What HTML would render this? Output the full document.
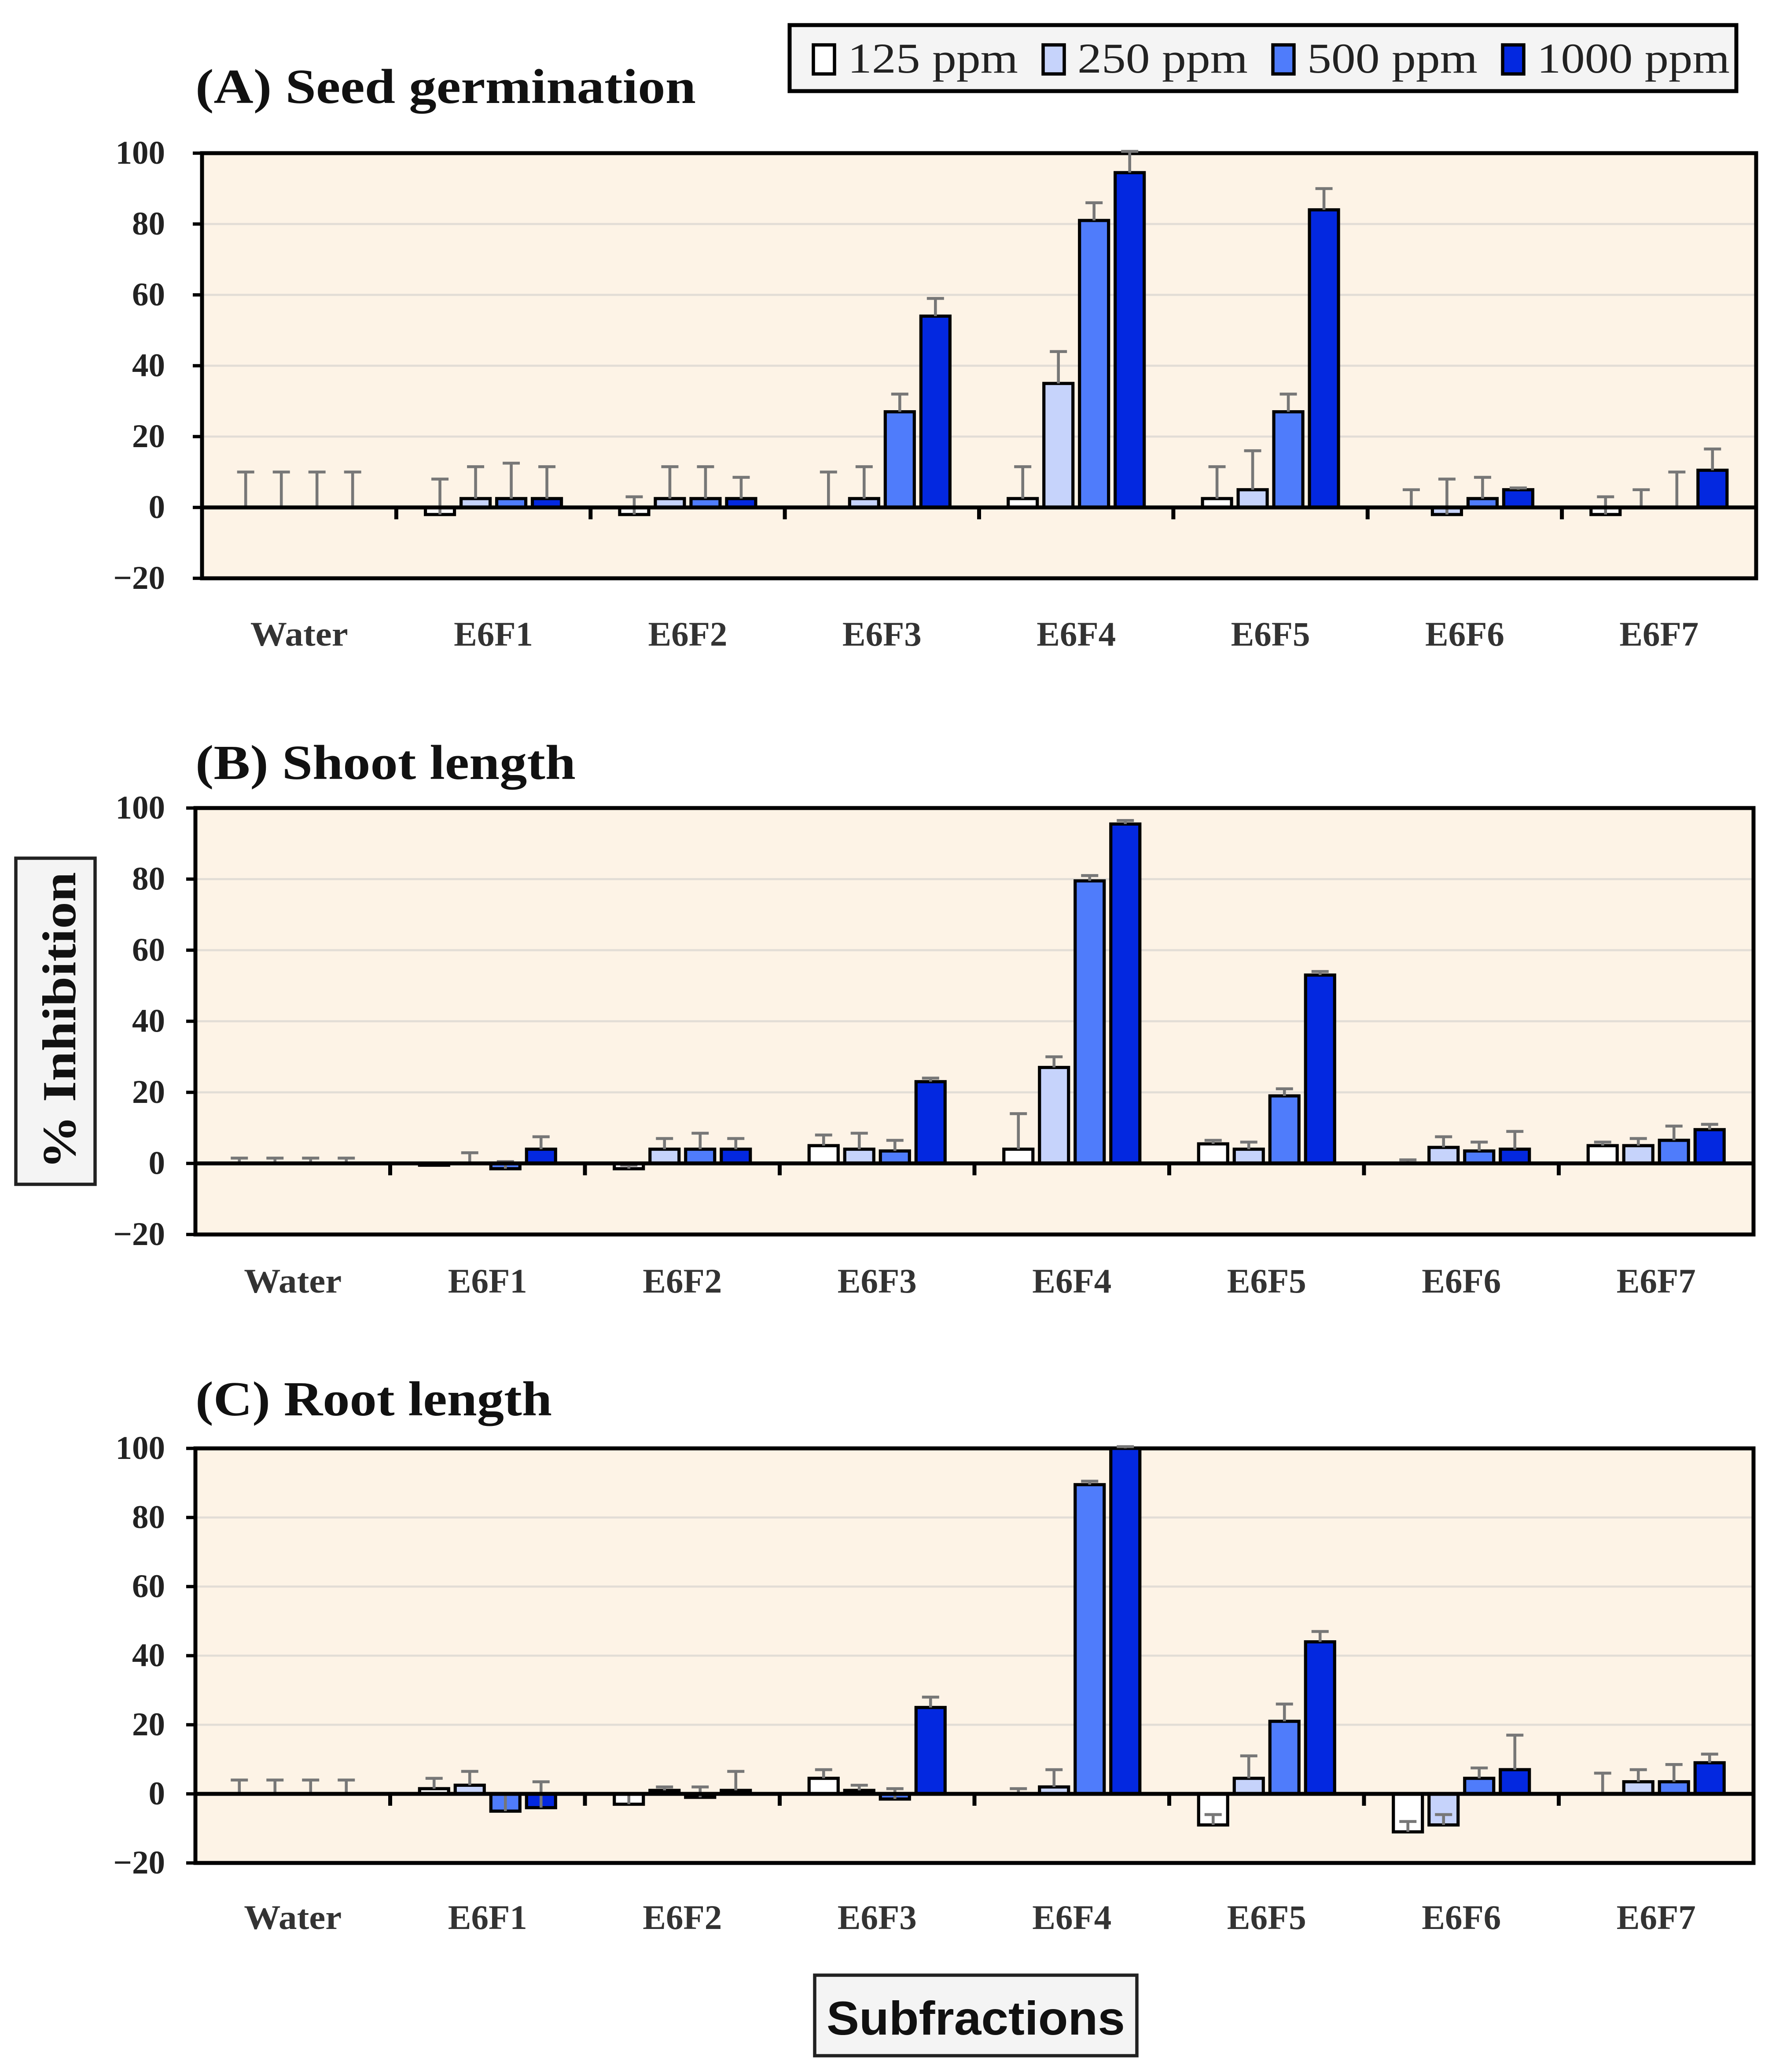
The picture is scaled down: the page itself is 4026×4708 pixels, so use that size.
<!DOCTYPE html>
<html><head><meta charset="utf-8"><style>
html,body{margin:0;padding:0;background:#fff;}
svg{display:block;}
</style></head><body>
<svg id="fig" xmlns="http://www.w3.org/2000/svg" width="4026" height="4708" viewBox="0 0 1342 1569.33">
<rect x="0" y="0" width="1342" height="1570" fill="#fff"/>
<g id="legend">
  <rect x="598" y="19" width="717" height="50" fill="#f4f4f4" stroke="#000" stroke-width="3"/>
  <rect x="616" y="34" width="16" height="22" fill="#fff" stroke="#000" stroke-width="2.5"/>
  <text x="642" y="55" textLength="129" lengthAdjust="spacingAndGlyphs" font-family="Liberation Serif, serif" font-size="32" fill="#222">125 ppm</text>
  <rect x="790" y="34" width="16" height="22" fill="#c6d3fb" stroke="#000" stroke-width="2.5"/>
  <text x="816" y="55" textLength="129" lengthAdjust="spacingAndGlyphs" font-family="Liberation Serif, serif" font-size="32" fill="#222">250 ppm</text>
  <rect x="964" y="34" width="16" height="22" fill="#4f7cfb" stroke="#000" stroke-width="2.5"/>
  <text x="990" y="55" textLength="129" lengthAdjust="spacingAndGlyphs" font-family="Liberation Serif, serif" font-size="32" fill="#222">500 ppm</text>
  <rect x="1138" y="34" width="16" height="22" fill="#0328e0" stroke="#000" stroke-width="2.5"/>
  <text x="1164" y="55" textLength="146" lengthAdjust="spacingAndGlyphs" font-family="Liberation Serif, serif" font-size="32" fill="#222">1000 ppm</text>
</g>
<g>
  <rect x="12" y="650" width="60" height="247" fill="#f4f4f4" stroke="#222" stroke-width="2.5"/>
  <text transform="translate(57,773) rotate(-90)" text-anchor="middle" textLength="225" lengthAdjust="spacingAndGlyphs" font-family="Liberation Serif, serif" font-weight="bold" font-size="36" fill="#111">% Inhibition</text>
</g>
<g>
  <rect x="617" y="1496" width="244" height="61" fill="#f4f4f4" stroke="#222" stroke-width="2.5"/>
  <text x="739" y="1541" text-anchor="middle" textLength="226" lengthAdjust="spacingAndGlyphs" font-family="Liberation Sans, sans-serif" font-weight="bold" font-size="36" fill="#111">Subfractions</text>
</g>
</svg>
<script>
const categories = ["Water","E6F1","E6F2","E6F3","E6F4","E6F5","E6F6","E6F7"];
const seriesNames = ["125 ppm","250 ppm","500 ppm","1000 ppm"];
const yTicks = [100,80,60,40,20,0,-20];
// Panel A: seed germination  [series][category]
const germ125  = [0,-2,-2,0,2.5,2.5,0,-2];
const germ250  = [0,2.5,2.5,2.5,35,5,-2,0];
const germ500  = [0,2.5,2.5,27,81,27,2.5,0];
const germ1000 = [0,2.5,2.5,54,94.5,84,5,10.5];
const germErr125  = [10,10,5,10,9,9,5,5];
const germErr250  = [10,9,9,9,9,11,10,5];
const germErr500  = [10,10,9,5,5,5,6,10];
const germErr1000 = [10,9,6,5,6,6,0.5,6];
// Panel B: shoot length
const shoot125  = [0,-0.5,-1.5,5,4,5.5,0,5];
const shoot250  = [0,0,4,4,27,4,4.5,5];
const shoot500  = [0,-1.5,4,3.5,79.5,19,3.5,6.5];
const shoot1000 = [0,4,4,23,95.5,53,4,9.5];
const shootErr125  = [1.5,0.5,1,3,10,1,1,1];
const shootErr250  = [1.5,3,3,4.5,3,2,3,2];
const shootErr500  = [1.5,2,4.5,3,1.5,2,2.5,4];
const shootErr1000 = [1.5,3.5,3,1,1,1,5,1.5];
// Panel C: root length
const root125  = [0,1.5,-3,4.5,0,-9,-11,0];
const root250  = [0,2.5,1,1,2,4.5,-9,3.5];
const root500  = [0,-5,-1,-1.5,89.5,21,4.5,3.5];
const root1000 = [0,-4,1,25,100,44,7,9];
const rootErr125  = [4,3,3,2.5,1.5,3,3,6];
const rootErr250  = [4,4,1,1.5,5,6.5,3,3.5];
const rootErr500  = [4,5,3,3,1,5,3,5];
const rootErr1000 = [4,7.5,5.5,3,0.5,3,10,2.5];

const colors = ["#ffffff","#c6d3fb","#4f7cfb","#0328e0"];
const NS = "http://www.w3.org/2000/svg";
const svg = document.getElementById("fig");
function mk(tag, attrs, parent){const e=document.createElementNS(NS,tag);for(const k in attrs)e.setAttribute(k,attrs[k]);(parent||svg).appendChild(e);return e;}

const panels = [
  {key:"germination", title:"(A) Seed germination", tlen:379, titleY:78, x0:153, x1:1330, yTop:116, yBot:438, labY:489,
   vals:[germ125,germ250,germ500,germ1000], errs:[germErr125,germErr250,germErr500,germErr1000]},
  {key:"shoot", title:"(B) Shoot length", tlen:288, titleY:590, x0:148, x1:1328, yTop:612, yBot:935, labY:979,
   vals:[shoot125,shoot250,shoot500,shoot1000], errs:[shootErr125,shootErr250,shootErr500,shootErr1000]},
  {key:"root", title:"(C) Root length", tlen:270, titleY:1072, x0:148, x1:1328, yTop:1097, yBot:1411, labY:1461,
   vals:[root125,root250,root500,root1000], errs:[rootErr125,rootErr250,rootErr500,rootErr1000]}
];

panels.forEach(p=>{
  const g = mk("g",{});
  
  
  const yMax=100,yMin=-20;
  const y = v => p.yTop + (yMax - v)/(yMax-yMin)*(p.yBot-p.yTop);
  const gw = (p.x1-p.x0)/categories.length;
  const xc = i => p.x0 + gw*(i+0.5);
  const bw = 22, step = 27;
  const t = mk("text",{x:148,y:p.titleY,textLength:p.tlen,lengthAdjust:"spacingAndGlyphs","font-family":"Liberation Serif, serif","font-weight":"bold","font-size":"37",fill:"#111"},g);
  t.textContent=p.title;
  
  
  const bg = mk("rect",{x:p.x0,y:p.yTop,width:p.x1-p.x0,height:p.yBot-p.yTop,fill:"#fdf3e6"},g);
  
  
  yTicks.forEach(v=>{
    if(v!==100 && v!==-20 && v!==0){
      const gl = mk("line",{x1:p.x0,x2:p.x1,y1:y(v),y2:y(v),stroke:"#e2ddd6","stroke-width":"1.6"},g);
      
      
    }
    const tl = mk("text",{x:125,y:y(v)+8,"text-anchor":"end","font-family":"Liberation Serif, serif","font-weight":"bold","font-size":"25",fill:"#222"},g);
    tl.textContent = v<0 ? "\u2212"+(-v) : String(v);
    
    
    const tk = mk("line",{x1:p.x0-7,x2:p.x0,y1:y(v),y2:y(v),stroke:"#000","stroke-width":"2.5"},g);
    
    
  });
  const border = mk("rect",{x:p.x0,y:p.yTop,width:p.x1-p.x0,height:p.yBot-p.yTop,fill:"none",stroke:"#000","stroke-width":"3"},g);
  
  
  categories.forEach((c,i)=>{
    const lab = mk("text",{x:xc(i),y:p.labY,"text-anchor":"middle",textLength:(i===0?74:60),lengthAdjust:"spacingAndGlyphs","font-family":"Liberation Serif, serif","font-weight":"bold","font-size":"26",fill:"#333"},g);
    lab.textContent=c;
    
    
    if(i>0){
      const ct = mk("line",{x1:p.x0+gw*i,x2:p.x0+gw*i,y1:y(0),y2:y(0)+9,stroke:"#000","stroke-width":"3"},g);
      
      
    }
    p.vals.forEach((arr,s)=>{
      const v = arr[i];
      const bx = xc(i) + (s-1.5)*step - bw/2;
      const top = Math.min(y(v),y(0)), h = Math.abs(y(v)-y(0));
      const r = mk("rect",{x:bx,y:top,width:bw,height:h,fill:colors[s],stroke:"#000","stroke-width":"2.4"},g);
      
      
      const e = p.errs[s][i];
      const ex = bx + bw/2;
      const eb = mk("path",{d:`M${ex},${y(v)} V${y(v+e)} M${ex-6.5},${y(v+e)} H${ex+6.5}`,stroke:"#777","stroke-width":"2.2",fill:"none"},g);
      
      
    });
  });
  const end = mk("line",{x1:p.x1,x2:p.x1,y1:y(0),y2:y(0)+9,stroke:"#000","stroke-width":"3"},g);
  
  
  const zl = mk("line",{x1:p.x0,x2:p.x1,y1:y(0),y2:y(0),stroke:"#000","stroke-width":"3"},g);
  
  
});
</script>
</body></html>
